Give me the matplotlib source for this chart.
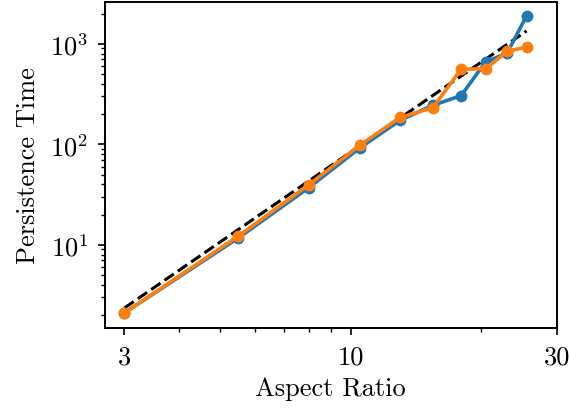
import numpy as np
import matplotlib
matplotlib.use("Agg")
import matplotlib.pyplot as plt
from matplotlib.ticker import FixedLocator, NullFormatter, LogLocator, FixedFormatter

plt.rcParams['font.family'] = 'serif'
plt.rcParams['font.serif'] = ['cmr10']
plt.rcParams['mathtext.fontset'] = 'cm'
plt.rcParams['axes.unicode_minus'] = False

aspect_ratio = [3, 5.5, 8, 10.5, 13, 15.5, 18, 20.5, 23, 25.5]
blue_time = [2.1, 11.7, 37, 92, 173, 245, 305, 660, 810, 1900]
orange_time = [2.1, 12.2, 39.5, 98, 185, 232, 560, 565, 840, 935]
fit_exponent = 2.967
fit_prefactor = 2.35 / 3 ** 2.967
xtick_values = [3, 10, 30]
xtick_labels = ['3', '10', '30']

fig = plt.figure(figsize=(5.69, 4.10), dpi=100)
ax = fig.add_axes([0.184, 0.198, 0.795, 0.795])

xs = np.array(aspect_ratio, dtype=float)
xfit = np.linspace(xs.min(), xs.max(), 100)
ax.plot(xfit, fit_prefactor * xfit ** fit_exponent, '--', color='black', lw=2.2, zorder=1)
ax.plot(aspect_ratio, blue_time, '-o', color='#1f77b4', lw=2.6, ms=7.5, zorder=2)
ax.plot(aspect_ratio, orange_time, '-o', color='#ff7f0e', lw=2.6, ms=7.5, zorder=3)

ax.set_xscale('log')
ax.set_yscale('log')
ax.set_xlim(2.7, 30)
ax.set_ylim(1.49, 2620)
ax.xaxis.set_major_locator(FixedLocator(xtick_values))
ax.xaxis.set_major_formatter(FixedFormatter(xtick_labels))
ax.xaxis.set_minor_locator(LogLocator(base=10, subs=np.arange(2, 10), numticks=20))
ax.xaxis.set_minor_formatter(NullFormatter())

ax.set_xlabel('Aspect Ratio', fontsize=19, labelpad=6)
ax.set_ylabel('Persistence Time', fontsize=19, labelpad=7)
ax.tick_params(labelsize=19)
ax.tick_params(which='major', length=5, width=1.2, pad=7)
ax.tick_params(which='minor', length=3, width=1.0)
for s in ax.spines.values():
    s.set_linewidth(1.4)

fig.savefig('out.png', dpi=100)
